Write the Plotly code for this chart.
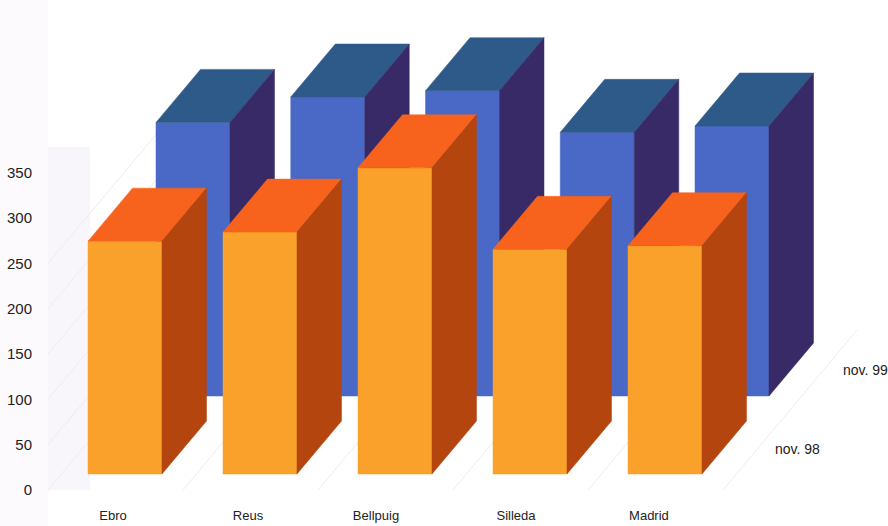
import plotly.graph_objects as go

categories = ["Ebro", "Reus", "Bellpuig", "Silleda", "Madrid"]
series_names = ["nov. 98", "nov. 99"]
nov_98 = [257, 267, 338, 248, 252]
nov_99 = [302, 330, 337, 291, 298]
y_ticks = [0, 50, 100, 150, 200, 250, 300, 350]
wall_guides = [50, 100, 150, 200, 250]
label_slots = [0, 1, 1.948, 2.985, 3.97]

W, H = 888, 526
ML, MR, MT, MB = 40, 0, 0, 36
PX_PER_CAT = 135.0
PX_PER_UNIT = 0.906
X0_PX = 113.0


def ux(px):
    return px / PX_PER_CAT


def uy(px):
    return px / PX_PER_UNIT


BAR_W = ux(74)
DEPTH_X, DEPTH_Y = ux(44.5), uy(53)
rows = [
    dict(vals=nov_99, left=ux(156 - X0_PX), step=ux(134.75), base=uy(489 - 395),
         front="#4a68c6", top="#2e5a8a", side="#372a66"),
    dict(vals=nov_98, left=ux(88 - X0_PX), step=ux(135), base=uy(489 - 473),
         front="#f9a12b", top="#f7631d", side="#b5450f"),
]

fig = go.Figure()


def line(x0, y0, x1, y1, color="#eeeaf3"):
    fig.add_trace(go.Scatter(x=[x0, x1], y=[y0, y1], mode="lines",
                             line=dict(color=color, width=1), hoverinfo="skip", showlegend=False))


def face(xs, ys, color):
    fig.add_trace(go.Scatter(x=xs, y=ys, mode="lines", fill="toself", fillcolor=color,
                             line=dict(color=color, width=0.5), hoverinfo="skip", showlegend=False))


# faint floor and wall guide lines
floor_dx, floor_dy = ux(134), uy(160)
for k in range(6):
    x_start = ux(48 - X0_PX) + k
    line(x_start, 0, x_start + floor_dx, floor_dy)
for v in wall_guides:
    line(ux(48 - X0_PX), v, ux(48 - X0_PX) + floor_dx, v + floor_dy)

for row in rows:
    for i, v in enumerate(row["vals"]):
        l = row["left"] + i * row["step"]
        r = l + BAR_W
        b = row["base"]
        t = b + v
        face([l, r, r, l, l], [b, b, t, t, b], row["front"])
        face([l, r, r + DEPTH_X, l + DEPTH_X, l], [t, t, t + DEPTH_Y, t + DEPTH_Y, t], row["top"])
        face([r, r + DEPTH_X, r + DEPTH_X, r, r], [b, b + DEPTH_Y, t + DEPTH_Y, t, b], row["side"])

font = dict(family="Liberation Sans, Arial, sans-serif", color="#222222")

annotations = []
for name, cx, cy in zip(series_names, [797, 865], [448, 369]):
    annotations.append(dict(x=ux(cx - X0_PX), y=uy(489 - cy), text=name, showarrow=False,
                            xanchor="center", yanchor="middle", font=dict(size=14, **font)))

PW = W - ML - MR
fig.update_layout(
    width=W, height=H,
    margin=dict(l=ML, r=MR, t=MT, b=MB, pad=0),
    paper_bgcolor="#ffffff", plot_bgcolor="rgba(0,0,0,0)",
    showlegend=False,
    annotations=annotations,
    shapes=[
        dict(type="rect", xref="paper", yref="paper", layer="below",
             x0=-ML / PW, x1=(48 - ML) / PW, y0=-0.08, y1=1,
             fillcolor="#fcfafc", line=dict(width=0)),
        dict(type="rect", xref="paper", yref="paper", layer="below",
             x0=(48 - ML) / PW, x1=(90 - ML) / PW, y0=0, y1=0.7,
             fillcolor="#f9f6fb", line=dict(width=0)),
    ],
    xaxis=dict(range=[ux(ML - X0_PX), ux(W - X0_PX)], tickvals=label_slots, ticktext=categories,
               showgrid=False, zeroline=False, showline=False,
               ticks="outside", ticklen=13, tickcolor="rgba(0,0,0,0)",
               tickfont=dict(size=13, **font), tickangle=0, fixedrange=True),
    yaxis=dict(range=[0, uy(490)], tickvals=y_ticks,
               showgrid=False, zeroline=False, showline=False,
               ticks="outside", ticklen=4, tickcolor="rgba(0,0,0,0)",
               tickfont=dict(size=15, **font), fixedrange=True),
)

fig.write_html("out.html", post_script="document.body.style.margin='0';document.documentElement.style.overflow='hidden';",
               config={"displayModeBar": False})
